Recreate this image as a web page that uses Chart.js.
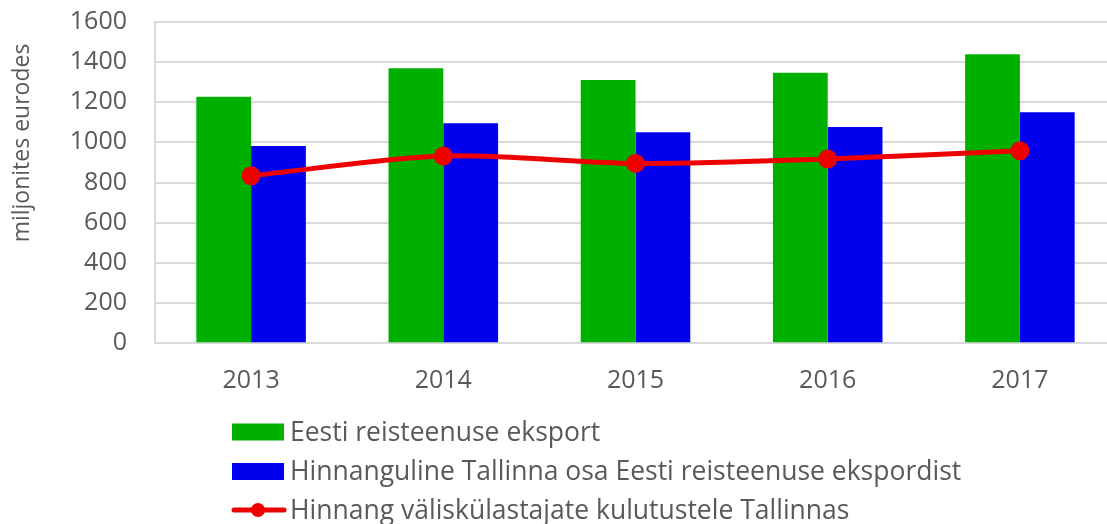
<!DOCTYPE html>
<html>
<head>
<meta charset="utf-8">
<script src="https://cdn.jsdelivr.net/npm/chart.js@4/dist/chart.umd.min.js"></script>
<style>
  html, body { margin: 0; padding: 0; background: #fff; overflow: hidden; }
  #wrap { position: relative; width: 1107px; height: 524px; overflow: hidden; }
  #wrap canvas { position: absolute; left: 0; top: 0; }
</style>
</head>
<body>
<div id="wrap"><canvas id="c" width="1116" height="524" style="width:1116px;height:524px"></canvas></div>
<script>
const categories = ['2013', '2014', '2015', '2016', '2017'];
const exportValues = [1227, 1368, 1310, 1346, 1438];
const tallinnShare = [982, 1095, 1050, 1076, 1149];
const visitorSpending = [834, 932, 895, 917, 958];
const yTicks = [0, 200, 400, 600, 800, 1000, 1200, 1400, 1600];
const seriesNames = [
  'Eesti reisteenuse eksport',
  'Hinnanguline Tallinna osa Eesti reisteenuse ekspordist',
  'Hinnang väliskülastajate kulutustele Tallinnas'
];
const yTitle = 'miljonites eurodes';

const GREEN = '#00B000', BLUE = '#0000EE', RED = '#EE0000';
const TEXT = '#595959', GRID = '#D9D9D9';
const FONT = '"Open Sans", sans-serif';

const customText = {
  id: 'customText',
  afterDraw(chart) {
    const ctx = chart.ctx;
    ctx.save();
    ctx.fillStyle = TEXT;
    ctx.font = '23px ' + FONT;
    ctx.textAlign = 'center';
    ctx.textBaseline = 'middle';
    ctx.translate(22, 143);
    ctx.rotate(-Math.PI / 2);
    ctx.fillText(yTitle, 0, 0);
    ctx.restore();

    ctx.save();
    const x0 = 232, rows = [432, 471.5, 510];
    ctx.font = '26.5px ' + FONT;
    ctx.textBaseline = 'middle';
    ctx.textAlign = 'left';
    const legendOrder = [1, 2, 0];
    legendOrder.forEach((di, i) => {
      const ds = chart.data.datasets[di];
      const y = rows[i];
      if (ds.type === 'line') {
        ctx.strokeStyle = ds.borderColor;
        ctx.lineWidth = ds.borderWidth;
        ctx.lineCap = 'round';
        ctx.beginPath(); ctx.moveTo(x0 + 2, y); ctx.lineTo(x0 + 52, y); ctx.stroke();
        ctx.fillStyle = ds.pointBackgroundColor;
        ctx.beginPath(); ctx.arc(x0 + 26, y, ds.pointRadius, 0, Math.PI * 2); ctx.fill();
      } else {
        ctx.fillStyle = ds.backgroundColor;
        ctx.fillRect(x0, y - 8.5, 52, 17);
      }
      ctx.fillStyle = TEXT;
      ctx.fillText(ds.label, x0 + 58, y + 1);
    });
    ctx.restore();
  }
};

new Chart(document.getElementById('c'), {
  data: {
    labels: categories,
    datasets: [
      { type: 'line', label: seriesNames[2], data: visitorSpending, borderColor: RED, backgroundColor: RED,
        pointBackgroundColor: RED, pointBorderColor: RED, borderWidth: 5, pointRadius: 7, pointHoverRadius: 7,
        tension: 0.3, order: 0 },
      { type: 'bar', label: seriesNames[0], data: exportValues, backgroundColor: GREEN,
        categoryPercentage: 0.57, barPercentage: 1, order: 1 },
      { type: 'bar', label: seriesNames[1], data: tallinnShare, backgroundColor: BLUE,
        categoryPercentage: 0.57, barPercentage: 1, order: 1 }
    ]
  },
  options: {
    responsive: false,
    animation: false,
    events: [],
    layout: { autoPadding: false, padding: { top: 21.7, right: 0, bottom: 124, left: 0 } },
    plugins: { legend: { display: false }, tooltip: { enabled: false } },
    scales: {
      x: {
        grid: { display: false, drawTicks: false },
        border: { display: true, color: GRID, width: 2 },
        ticks: { color: TEXT, font: { family: FONT, size: 25 }, padding: 23 },
        afterFit: s => { s.height = 56.7; }
      },
      y: {
        min: 0, max: 1600,
        afterBuildTicks: s => { s.ticks = yTicks.map(v => ({ value: v })); },
        grid: { color: GRID, lineWidth: 2, drawTicks: true, tickLength: 28, tickColor: 'rgba(0,0,0,0)' },
        border: { display: true, color: GRID, width: 2 },
        ticks: { color: TEXT, font: { family: FONT, size: 25 }, padding: 0, callback: v => String(v) },
        afterFit: s => { s.width = 155; }
      }
    }
  },
  plugins: [customText]
});
</script>
</body>
</html>
